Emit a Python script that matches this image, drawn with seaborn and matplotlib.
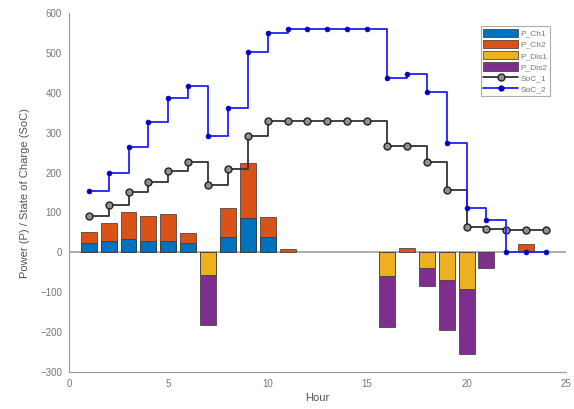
import numpy as np
import pandas as pd

import matplotlib
matplotlib.use("Agg")
import matplotlib.pyplot as plt
import seaborn as sns
from matplotlib.patches import Patch
from matplotlib.lines import Line2D

# ------------------------------------------
# DATA
# ------------------------------------------

hours = list(range(1, 25))

p_ch1 = [24, 28, 34, 29, 29, 24, 0, 38, 86, 38, 0, 0,
         0, 0, 0, 0, 0, 0, 0, 0, 0, 0, 0, 0]

p_ch2 = [26, 46, 66, 63, 67, 25, 0, 72, 138, 51, 8, 0,
         0, 0, 0, 0, 11, 0, 0, 0, 0, 0, 22, 0]

p_dis1 = [0, 0, 0, 0, 0, 0, -58, 0, 0, 0, 0, 0,
          0, 0, 0, -60, 0, -39, -70, -92, 0, 0, 0, 0]

p_dis2 = [0, 0, 0, 0, 0, 0, -123, 0, 0, 0, 0, 0,
          0, 0, 0, -128, 0, -46, -124, -164, -39, 0, 0, 0]

soc_1 = [90, 118, 151, 176, 205, 226, 170, 208, 291, 329, 329, 329,
         329, 329, 329, 266, 266, 226, 156, 63, 58, 56, 56, 56]

soc_2 = [153, 200, 263, 326, 388, 416, 293, 363, 503, 551, 560, 560,
         560, 560, 560, 436, 446, 401, 275, 110, 80, 0, 0, 0]

series_names = ["P_Ch1", "P_Ch2", "P_Dis1", "P_Dis2", "SoC_1", "SoC_2"]

x_ticks = [0, 5, 10, 15, 20, 25]
y_ticks = [-300, -200, -100, 0, 100, 200, 300, 400, 500, 600]

colors = ["#0072BD", "#D95319", "#EDB120", "#7E2F8E"]

df = pd.DataFrame({
    "hour": hours,
    "ch1": p_ch1,
    "ch_total": np.add(p_ch1, p_ch2),
    "dis1": p_dis1,
    "dis_total": np.add(p_dis1, p_dis2),
    "soc1": soc_1,
    "soc2": soc_2,
})

# ------------------------------------------
# FIGURE
# ------------------------------------------

sns.set_style("white")
plt.rcParams["font.family"] = ["Liberation Sans", "DejaVu Sans"]

fig = plt.figure(figsize=(5.74, 4.09), dpi=100)
ax = fig.add_axes([0.120, 0.0905, 0.866, 0.8775])

ax.axhline(0, color="#a8a8a8", lw=1.3, zorder=0.5)

bar_kw = dict(
    x="hour",
    native_scale=True,
    errorbar=None,
    saturation=1,
    edgecolor="#333333",
    linewidth=0.5,
    ax=ax,
)

# stacked bars: draw the total first, then the lower segment on top
layers = [
    ("ch_total", colors[1]),
    ("ch1", colors[0]),
    ("dis_total", colors[3]),
    ("dis1", colors[2]),
]

for col, c in layers:
    sub = df[df[col] != 0]
    sns.barplot(data=sub, y=col, color=c, **bar_kw)

sns.lineplot(
    data=df, x="hour", y="soc1",
    drawstyle="steps-post",
    color="#333333", lw=1.3,
    marker="o", markersize=5,
    markerfacecolor="#909090",
    markeredgecolor="#222222",
    markeredgewidth=1.0,
    ax=ax,
)

sns.lineplot(
    data=df, x="hour", y="soc2",
    drawstyle="steps-post",
    color="#2020ff", lw=1.3,
    marker="o", markersize=3.5,
    markerfacecolor="#0000bb",
    markeredgecolor="#0000bb",
    markeredgewidth=0.5,
    ax=ax,
)

# ------------------------------------------
# AXES
# ------------------------------------------

ax.set_xlim(0, 25)
ax.set_ylim(-300, 600)
ax.set_xticks(x_ticks)
ax.set_yticks(y_ticks)
ax.tick_params(
    direction="in", length=3, width=0.6,
    labelsize=7, colors="#777777", pad=5
)

for side in ["top", "right"]:
    ax.spines[side].set_visible(False)
for side in ["left", "bottom"]:
    ax.spines[side].set_color("#999999")
    ax.spines[side].set_linewidth(0.8)

ax.set_xlabel("Hour", fontsize=8, color="#555555", labelpad=3)
ax.set_ylabel(
    "Power (P) / State of Charge (SoC)",
    fontsize=8, color="#555555", labelpad=7
)

handles = [
    Patch(facecolor=colors[0], edgecolor="#333333", lw=0.5),
    Patch(facecolor=colors[1], edgecolor="#333333", lw=0.5),
    Patch(facecolor=colors[2], edgecolor="#333333", lw=0.5),
    Patch(facecolor=colors[3], edgecolor="#333333", lw=0.5),
    Line2D([], [], color="#333333", lw=1.3, marker="o", markersize=5,
           markerfacecolor="#909090", markeredgecolor="#222222"),
    Line2D([], [], color="#2020ff", lw=1.3, marker="o", markersize=3.5,
           markerfacecolor="#0000bb", markeredgecolor="#0000bb"),
]

leg = ax.legend(
    handles, series_names,
    loc="upper right",
    bbox_to_anchor=(0.968, 0.964),
    fontsize=6,
    handlelength=4.2,
    handleheight=1.2,
    handletextpad=0.3,
    labelspacing=0.25,
    borderpad=0.3,
    borderaxespad=0,
    fancybox=False,
    frameon=True,
)
leg.get_frame().set_edgecolor("#999999")
leg.get_frame().set_linewidth(0.8)
for t in leg.get_texts():
    t.set_color("#777777")

fig.savefig("out.png", dpi=100)
